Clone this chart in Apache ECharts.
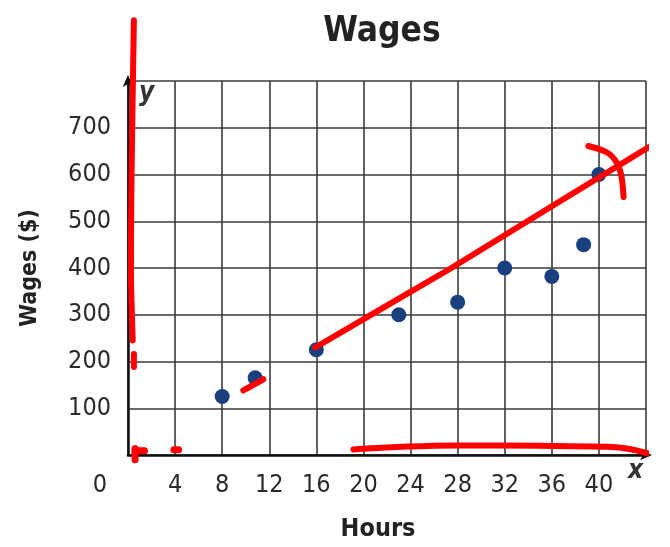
<!DOCTYPE html>
<html>
<head>
<meta charset="utf-8">
<script src="https://cdn.jsdelivr.net/npm/echarts@6/dist/echarts.min.js"></script>
<style>html,body{margin:0;padding:0;background:#fff}#c{width:670px;height:547px}</style>
</head>
<body>
<div id="c"></div>
<script>
// ---- data ----
var hours = [8, 10.8, 16, 23, 28, 32, 36, 38.7, 40];
var wages = [125, 165, 225, 300, 327, 400, 382, 450, 600];
var xTicks = [0, 4, 8, 12, 16, 20, 24, 28, 32, 36, 40];
var yTicks = [100, 200, 300, 400, 500, 600, 700];

// hand-drawn red annotations (data coordinates)
var redTrend = [[15.9, 230], [21.4, 311], [27.4, 399], [36.0, 532], [44.8, 667]];
var redHook = [[39.1, 661], [40.7, 647], [41.5, 626], [41.9, 598], [42.1, 552]];
var redLeft = [[0.5, 930], [0.3, 600], [0.25, 400], [0.4, 245]];
var redLeftDash = [[0.5, 216], [0.5, 188]];
var redSmall = [[9.8, 138], [11.5, 162]];
var redBottom = [[19.15, 12], [23.7, 18], [27.9, 20.4], [35.0, 19.7], [40.7, 17.6], [42.6, 12.7], [45.2, -3.6]];
var redOrigin1 = [[0.6, 14], [0.6, -10]];
var redOrigin2 = [[0.6, 9], [1.4, 9]];
var redDot4 = [[3.9, 11], [4.3, 11]];

var FONT = '"Liberation Sans Narrow", "DejaVu Sans Condensed", "Noto Sans", sans-serif';

function redSeries(d, w, s) {
  return {
    type: 'line', data: d, symbol: 'none', clip: false, smooth: s === undefined ? 0.3 : s, z: 10,
    lineStyle: { color: '#ff0000', width: w || 6, cap: 'round', join: 'round' },
    silent: true, animation: false
  };
}

var chart = echarts.init(document.getElementById('c'), null, { renderer: 'canvas' });
chart.setOption({
  animation: false,
  backgroundColor: '#ffffff',
  title: {
    text: 'Wages', left: 377, top: 9, textAlign: 'center',
    textStyle: { fontFamily: FONT, fontWeight: 'bold', fontSize: 35, color: '#222' }
  },
  grid: { left: 128, top: 81, width: 518, height: 377, containLabel: false },
  xAxis: {
    type: 'value', min: 0, max: 44, interval: 4,
    name: 'Hours', nameLocation: 'middle', nameGap: 62,
    nameTextStyle: { fontFamily: FONT, fontWeight: 'bold', fontSize: 25, color: '#222', padding: [0, 18, 0, 0] },
    axisLine: { show: true, lineStyle: { color: '#111', width: 2.5 }, symbol: ['none', 'arrow'], symbolSize: [8, 12], symbolOffset: [0, 6] },
    axisTick: { show: false },
    axisLabel: {
      margin: 18, color: '#2a2a2a', fontFamily: FONT, fontSize: 25,
      formatter: function (v) { if (xTicks.indexOf(v) < 0) return ''; return v === 0 ? '{o|0}' : String(v); },
      rich: { o: { fontFamily: FONT, fontSize: 25, color: '#2a2a2a', padding: [0, 56, 0, 0] } }
    },
    splitLine: { show: true, lineStyle: { color: '#3a3a3a', width: 1.6 } }
  },
  yAxis: {
    type: 'value', min: 0, max: 800, interval: 100,
    name: 'Wages ($)', nameLocation: 'middle', nameGap: 86, nameRotate: 90,
    nameTextStyle: { fontFamily: FONT, fontWeight: 'bold', fontSize: 23, color: '#222' },
    axisLine: { show: true, lineStyle: { color: '#111', width: 2.5 }, symbol: ['none', 'arrow'], symbolSize: [8, 12], symbolOffset: [0, 6] },
    axisTick: { show: false },
    axisLabel: {
      margin: 17, color: '#2a2a2a', fontFamily: FONT, fontSize: 25,
      formatter: function (v) { return yTicks.indexOf(v) < 0 ? '' : String(v); }
    },
    splitLine: { show: true, lineStyle: { color: '#3a3a3a', width: 1.6 } }
  },
  graphic: [
    { type: 'text', left: 139, top: 80, style: { text: 'y', font: 'italic bold 26px ' + FONT, fill: '#333' } },
    { type: 'text', left: 628, top: 458, style: { text: 'x', font: 'italic bold 26px ' + FONT, fill: '#333' } }
  ],
  series: [
    {
      type: 'scatter', data: hours.map(function (h, i) { return [h, wages[i]]; }),
      symbol: 'circle', symbolSize: 15, z: 5,
      itemStyle: { color: '#1a3f7d', opacity: 1 }
    },
    redSeries(redTrend, 6, 0),
    redSeries(redHook),
    redSeries(redLeft),
    redSeries(redLeftDash),
    redSeries(redSmall),
    redSeries(redBottom),
    redSeries(redOrigin1, 7),
    redSeries(redOrigin2, 7),
    redSeries(redDot4, 7)
  ]
});
</script>
</body>
</html>
